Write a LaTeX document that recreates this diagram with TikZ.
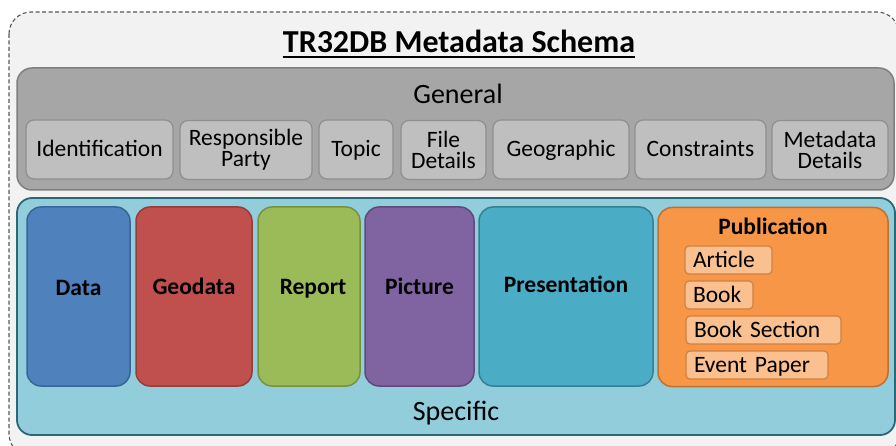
\documentclass[tikz,border=0pt]{standalone}
\usepackage{fontspec}
\setmainfont{Carlito}
\usepackage{tikz}

\definecolor{schemafill}{HTML}{F2F2F2}
\definecolor{schemaline}{HTML}{595959}
\definecolor{generalfill}{HTML}{A6A6A6}
\definecolor{generalline}{HTML}{7F7F7F}
\definecolor{itemfill}{HTML}{BFBFBF}
\definecolor{itemline}{HTML}{8F8F8F}
\definecolor{specificfill}{HTML}{92CDDC}
\definecolor{specificline}{HTML}{2A6878}
\definecolor{datafill}{HTML}{4F81BD}
\definecolor{dataline}{HTML}{3A6496}
\definecolor{geofill}{HTML}{C0504D}
\definecolor{geoline}{HTML}{963C3A}
\definecolor{reportfill}{HTML}{9BBB59}
\definecolor{reportline}{HTML}{76923C}
\definecolor{picturefill}{HTML}{8064A2}
\definecolor{pictureline}{HTML}{5F4A7A}
\definecolor{presfill}{HTML}{4BACC6}
\definecolor{presline}{HTML}{357F93}
\definecolor{pubfill}{HTML}{F79646}
\definecolor{publine}{HTML}{C0702E}
\definecolor{pubitemfill}{HTML}{FAC090}
\definecolor{pubitemline}{HTML}{D08040}

\begin{document}
\begin{tikzpicture}[x=1pt,y=1pt]
    \tikzstyle{every node}+=[inner sep=0pt]
    \tikzstyle{genitem}=[draw=itemline, fill=itemfill, line width=1.2pt, rounded corners=8pt,
        minimum height=59pt, align=center, font=\fontsize{23.5}{21}\selectfont]
    \tikzstyle{oneline}=[text height=15pt, text depth=0pt]
    \tikzstyle{kind}=[line width=1.5pt, rounded corners=14pt, minimum height=179pt]
    \tikzstyle{kindname}=[text height=15pt, text depth=0pt, font=\fontsize{23.5}{24}\selectfont\bfseries]
    \tikzstyle{partname}=[text height=18pt, text depth=0pt, font=\fontsize{28}{30}\selectfont]
    \tikzstyle{pubitem}=[draw=pubitemline, fill=pubitemfill, line width=1.2pt, rounded corners=4pt,
        minimum height=28pt, inner xsep=8pt, text height=15pt, text depth=0pt, align=left,
        font=\fontsize{23.5}{24}\selectfont]
    \useasboundingbox (0,0) rectangle (896,-446);
    % outer frame
    \draw [schemaline, fill=schemafill, dash pattern=on 4pt off 2.5pt, line width=1.1pt, rounded corners=22pt]
        (9,-12) rectangle (899,-456);
    \node [text height=20.6pt, text depth=0pt, font=\fontsize{32}{34}\selectfont\bfseries]
        (title) at (459,-42) {TR32DB Metadata Schema};
    \draw [line width=2pt] ([yshift=-4.5pt]title.south west) -- ([yshift=-4.5pt]title.south east);
    % general part
    \node [draw=generalline, fill=generalfill, line width=1.5pt, rounded corners=15pt,
        minimum width=877pt, minimum height=122pt] (general) at (455.5,-129) {};
    \node [partname] (generalname) at (458,-95) {General};
    \node [genitem, oneline, minimum width=147pt] (ident) at (99.5,-149.5) {Identification};
    \node [genitem, minimum width=132pt] (party) at (246,-150) {Responsible\\Party};
    \node [genitem, oneline, minimum width=74pt] (topic) at (356,-149.5) {Topic};
    \node [genitem, minimum width=85pt] (file) at (443.5,-150) {File\\Details};
    \node [genitem, oneline, minimum width=136pt] (geo) at (561,-149.5) {Geographic};
    \node [genitem, oneline, minimum width=131pt] (constr) at (700.5,-149.5) {Constraints};
    \node [genitem, minimum width=116pt] (meta) at (830,-150) {Metadata\\Details};
    % specific part
    \node [draw=specificline, fill=specificfill, line width=1.8pt, rounded corners=15pt,
        minimum width=878pt, minimum height=237pt] (specific) at (456,-316.5) {};
    \node [partname] (specificname) at (456,-411.5) {Specific};
    \node [kind, draw=dataline, fill=datafill, minimum width=103pt] (data) at (78.5,-296.5) {};
    \node [kind, draw=geoline, fill=geofill, minimum width=116pt] (geodata) at (194,-296.5) {};
    \node [kind, draw=reportline, fill=reportfill, minimum width=102pt] (report) at (309,-296.5) {};
    \node [kind, draw=pictureline, fill=picturefill, minimum width=109pt] (picture) at (419.5,-296.5) {};
    \node [kind, draw=presline, fill=presfill, minimum width=174pt] (pres) at (566,-296.5) {};
    \node [kind, draw=publine, fill=pubfill, minimum width=230pt] (pub) at (773,-297) {};
    \node [kindname] (dataname) at (78.5,-287.5) {Data};
    \node [kindname] (geodataname) at (194,-286.5) {Geodata};
    \node [kindname] (reportname) at (313,-286.5) {Report};
    \node [kindname] (picturename) at (419.5,-287) {Picture};
    \node [kindname] (presname) at (566,-285) {Presentation};
    \node [kindname] (pubname) at (773,-227.5) {Publication};
    \node [pubitem, text width=71pt] (article) at (728.5,-260) {Article};
    \node [pubitem, text width=52pt] (book) at (719,-295) {Book};
    \node [pubitem, text width=139pt] (section) at (763.5,-330) {Book Section};
    \node [pubitem, text width=126pt] (event) at (757,-365) {Event Paper};
\end{tikzpicture}
\end{document}
